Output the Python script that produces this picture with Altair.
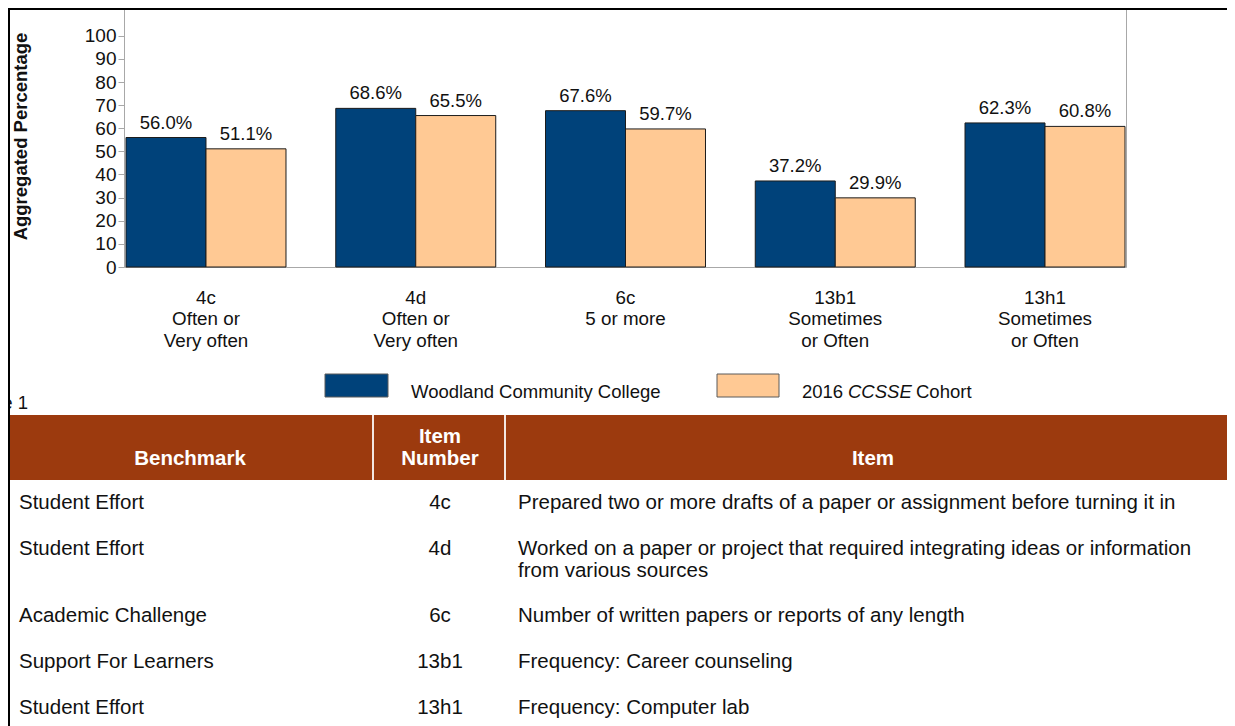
import altair as alt
import pandas as pd

# ---------------- data ----------------
items = ["4c", "4d", "6c", "13b1", "13h1"]
item_captions = [
    "4c\nOften or\nVery often",
    "4d\nOften or\nVery often",
    "6c\n5 or more",
    "13b1\nSometimes\nor Often",
    "13h1\nSometimes\nor Often",
]
series = ["Woodland Community College", "2016 CCSSE Cohort"]
woodland = [56.0, 68.6, 67.6, 37.2, 62.3]
cohort = [51.1, 65.5, 59.7, 29.9, 60.8]
y_ticks = [0, 10, 20, 30, 40, 50, 60, 70, 80, 90, 100]

table_headers = ["Benchmark", "Item\nNumber", "Item"]
benchmarks = ["Student Effort", "Student Effort", "Academic Challenge",
              "Support For Learners", "Student Effort"]
item_numbers = ["4c", "4d", "6c", "13b1", "13h1"]
item_texts = [
    "Prepared two or more drafts of a paper or assignment before turning it in",
    "Worked on a paper or project that required integrating ideas or information\nfrom various sources",
    "Number of written papers or reports of any length",
    "Frequency: Career counseling",
    "Frequency: Computer lab",
]
figure_caption = "Figure 1"

# ---------------- style ----------------
FONT = "Liberation Sans"
FS = 18.5        # chart texts
FS_T = 20.5      # table texts
BLUE = "#00427A"
PEACH = "#FFC994"
BROWN = "#9C3A0E"
GRAY = "#A8A8A8"
INK = "#111111"
W, H = 1219, 718

# ---------------- bar chart ----------------
bars_df = pd.DataFrame({
    "item": items * 2,
    "series": [series[0]] * len(items) + [series[1]] * len(items),
    "value": woodland + cohort,
})
bars_df["label"] = bars_df["value"].map(lambda v: f"{v:.1f}%")
cap_df = pd.DataFrame({"item": items, "caption": item_captions})
one = pd.DataFrame({"k": [0]})

x_enc = alt.X("item:N", sort=items, axis=None,
              scale=alt.Scale(domain=items, range=[118, 1117],
                              paddingInner=0.2372, paddingOuter=0))
xo_enc = alt.XOffset("series:N", sort=series,
                     scale=alt.Scale(domain=series, paddingInner=0, paddingOuter=0))
y_axis = alt.Axis(values=y_ticks, offset=-116, domain=False, grid=False,
                  tickColor=GRAY, tickSize=6, tickWidth=1,
                  labelFont=FONT, labelFontSize=19, labelColor=INK, labelPadding=2,
                  labelFlush=False, labelOverlap=False,
                  title="Aggregated Percentage", titleFont=FONT, titleFontSize=18.5,
                  titleFontWeight="bold", titleColor=INK, titleAngle=270,
                  titleX=-98, titleY=128, titleBaseline="alphabetic")
y_enc = alt.Y("value:Q", axis=y_axis,
              scale=alt.Scale(domain=[0, 112], range=[259, 0], nice=False))
color_enc = alt.Color("series:N", legend=None,
                      scale=alt.Scale(domain=series, range=[BLUE, PEACH]))

frame = alt.Chart(one).mark_rect(fill="transparent", stroke=GRAY, strokeWidth=1).encode(
    x=alt.value(116.5), x2=alt.value(1118.5), y=alt.value(0.5), y2=alt.value(259.5))

bars = alt.Chart(bars_df).mark_bar(stroke="#1c1c1c", strokeWidth=1).encode(
    x=x_enc, xOffset=xo_enc, y=y_enc, color=color_enc)

bar_labels = alt.Chart(bars_df).mark_text(
    baseline="alphabetic", dy=-9, font=FONT, fontSize=FS, color=INK).encode(
    x=x_enc, xOffset=xo_enc, y=y_enc, text="label:N")

captions = alt.Chart(cap_df).mark_text(
    baseline="alphabetic", lineBreak="\n", lineHeight=21.5, font=FONT,
    fontSize=18.8, color=INK, align="center").encode(
    x=x_enc, y=alt.value(295.7), text="caption:N")

# ---------------- legend (custom) ----------------
legend_layers = []
swatch_x = [(317, 380), (709, 771)]
swatch_colors = [BLUE, PEACH]
for (x0, x1), col in zip(swatch_x, swatch_colors):
    legend_layers.append(
        alt.Chart(one).mark_rect(fill=col, stroke="#5a5a5a", strokeWidth=1).encode(
            x=alt.value(x0), x2=alt.value(x1), y=alt.value(366), y2=alt.value(389)))
s2 = series[1].split(" ")
leg_parts = [(403, series[0], "normal"), (794, s2[0], "normal"),
             (840, s2[1], "italic"), (908, s2[2], "normal")]
for lx, txt, style in leg_parts:
    legend_layers.append(
        alt.Chart(pd.DataFrame({"t": [txt]})).mark_text(
            align="left", baseline="alphabetic", font=FONT, fontSize=FS,
            fontStyle=style, color=INK).encode(
            x=alt.value(lx), y=alt.value(389.5), text="t:N"))

# ---------------- table ----------------
col_bounds = [2, 365, 497, W]
col_centers = [182, 432, 865]
header = alt.Chart(one).mark_rect(fill=BROWN).encode(
    x=alt.value(col_bounds[0]), x2=alt.value(col_bounds[3]),
    y=alt.value(407), y2=alt.value(472))
sep_layers = [
    alt.Chart(one).mark_rule(color="#f4e6e0", strokeWidth=2).encode(
        x=alt.value(cx), y=alt.value(407), y2=alt.value(472))
    for cx in col_bounds[1:3]
]
hdr_df = pd.DataFrame({"h": table_headers, "cx": col_centers})
hdr_df["ny"] = hdr_df["h"].map(lambda s: 457 - 22 * s.count("\n"))
header_text = alt.Chart(hdr_df).mark_text(
    baseline="alphabetic", lineBreak="\n", lineHeight=22, font=FONT, fontSize=FS_T,
    fontWeight="bold", color="white", align="center").encode(
    x=alt.X("cx:Q", scale=None), y=alt.Y("ny:Q", scale=None), text="h:N")

row_y = []
yb = 501
for t in item_texts:
    row_y.append(yb)
    yb += 46 + 21 * t.count("\n")
rows_df = pd.DataFrame({"bench": benchmarks, "num": item_numbers,
                        "txt": item_texts, "ry": row_y})
row_kw = dict(baseline="alphabetic", lineBreak="\n", lineHeight=22, font=FONT,
              fontSize=FS_T, color=INK)
t_bench = alt.Chart(rows_df).mark_text(align="left", **row_kw).encode(
    x=alt.value(11), y=alt.Y("ry:Q", scale=None), text="bench:N")
t_num = alt.Chart(rows_df).mark_text(align="center", **row_kw).encode(
    x=alt.value(col_centers[1]), y=alt.Y("ry:Q", scale=None), text="num:N")
t_txt = alt.Chart(rows_df).mark_text(align="left", **row_kw).encode(
    x=alt.value(510), y=alt.Y("ry:Q", scale=None), text="txt:N")

caption_fig = alt.Chart(pd.DataFrame({"t": [figure_caption]})).mark_text(
    align="right", baseline="alphabetic", font=FONT, fontSize=FS, color=INK).encode(
    x=alt.value(20), y=alt.value(400.5), text="t:N")

# page border lines
top_line = alt.Chart(one).mark_rule(color="#000000", strokeWidth=2).encode(
    x=alt.value(0), x2=alt.value(W), y=alt.value(1))
left_line = alt.Chart(one).mark_rule(color="#000000", strokeWidth=2).encode(
    x=alt.value(1), y=alt.value(0), y2=alt.value(H))

chart = alt.layer(
    frame, bars, bar_labels, captions, *legend_layers,
    header, *sep_layers, header_text, t_bench, t_num, t_txt,
    caption_fig, top_line, left_line,
).properties(
    width=W, height=H, padding=0,
    autosize=alt.AutoSizeParams(type="none"),
).configure_view(stroke=None).configure(background="white")

chart.save("out.html", embed_options={"renderer": "svg", "actions": False})
